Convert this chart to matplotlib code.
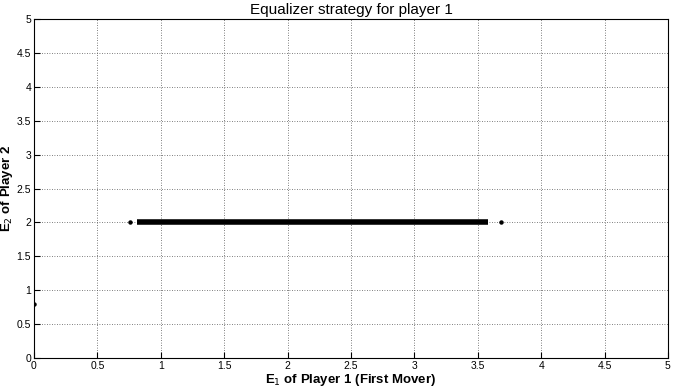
import numpy as np
from matplotlib import pyplot as plt

plt.rcParams['font.family'] = ['Liberation Sans', 'DejaVu Sans']

# equalizer segment (E1 range, E2 level)
seg_x = [0.81, 3.58]
seg_y = [2.0, 2.0]
# isolated points
pts_x = [0.76, 3.68, 0.0]
pts_y = [2.0, 2.0, 0.8]

ticks = np.arange(0, 5.01, 0.5)
tick_labels = ['0', '0.5', '1', '1.5', '2', '2.5', '3', '3.5', '4', '4.5', '5']

fig = plt.figure(figsize=(6.74, 3.89), dpi=100)
ax = fig.add_axes([0.0504, 0.0797, 0.9406, 0.8713])

ax.plot(seg_x, seg_y, color='black', linewidth=4, solid_capstyle='butt')
ax.plot(pts_x, pts_y, linestyle='none', marker='o', markersize=2.2, color='black')

ax.set_xlim(0, 5)
ax.set_ylim(0, 5)
ax.set_xticks(ticks)
ax.set_yticks(ticks)
ax.set_xticklabels(tick_labels, fontsize=7.5)
ax.set_yticklabels(tick_labels, fontsize=7.5)
ax.tick_params(direction='in', length=4, width=0.8, pad=2)
ax.grid(True, linestyle=(0, (1, 2)), color='#555555', linewidth=0.6)
for s in ax.spines.values():
    s.set_linewidth(0.8)

ax.set_title('Equalizer strategy for player 1', fontsize=11, pad=4)
ax.set_xlabel(r'E$_1$ of Player 1 (First Mover)', fontsize=9.5, fontweight='bold', labelpad=1)
ax.set_ylabel(r'E$_2$ of Player 2', fontsize=9.5, fontweight='bold', va='center')
ax.yaxis.set_label_coords(-0.042, 0.5)

fig.savefig('out.png', dpi=100)
